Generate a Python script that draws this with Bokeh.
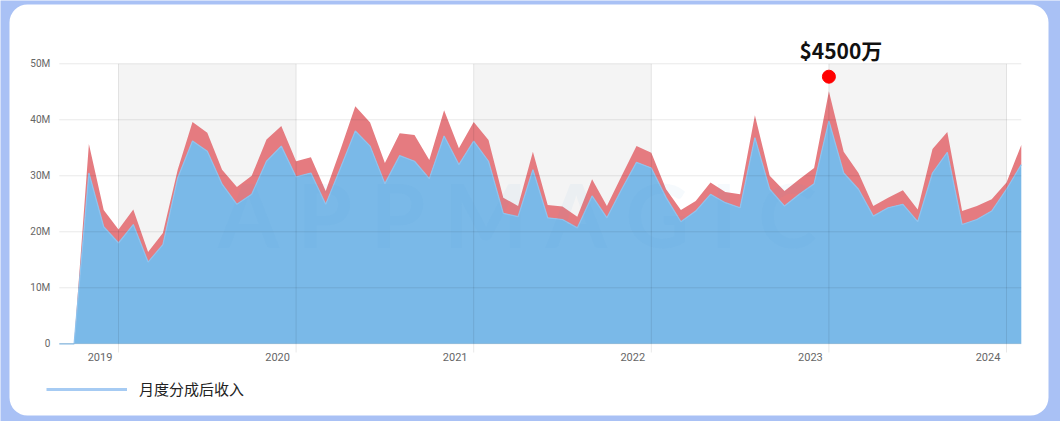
from bokeh.plotting import figure
from bokeh.models import (FixedTicker, LinearAxis, Range1d, Legend, LegendItem, Label)
from bokeh.core.properties import value
from bokeh.embed import file_html
from bokeh.resources import INLINE

# ---------------- data ----------------
start_year, start_month, n_months = 2018, 9, 66
months = [f"{start_year + (start_month - 1 + i) // 12}-{(start_month - 1 + i) % 12 + 1:02d}"
          for i in range(n_months)]  # 2018-09 ... 2024-02

# monthly net revenue after store share (blue), in millions USD
net_m = [0, 0, 30.5, 20.9, 18.0, 21.3, 14.6, 17.7, 29.6, 36.2, 34.4, 28.5,
         24.9, 26.7, 32.6, 35.3, 29.8, 30.5, 24.9, 31.4, 38.0, 35.3, 28.6, 33.6,
         32.6, 29.5, 37.1, 32.0, 36.2, 32.6, 23.3, 22.7, 31.1, 22.5, 22.2, 20.7,
         26.4, 22.5, 27.6, 32.4, 31.4, 26.1, 21.8, 23.7, 26.7, 25.2, 24.3, 36.8,
         27.6, 24.6, 26.7, 28.6, 39.8, 30.5, 27.6, 22.8, 24.3, 24.9, 21.8, 30.5,
         34.2, 21.3, 22.2, 23.7, 27.6, 32.0]
# monthly gross revenue (top of red band), in millions USD
gross_m = [0, 0, 35.7, 23.9, 20.4, 24.0, 16.4, 19.8, 31.1, 39.6, 37.7, 31.1,
           28.0, 30.0, 36.5, 38.9, 32.6, 33.3, 27.3, 34.7, 42.4, 39.5, 32.3, 37.6,
           37.3, 32.8, 41.7, 34.9, 39.6, 36.4, 26.1, 24.6, 34.3, 24.8, 24.5, 22.7,
           29.4, 24.6, 30.0, 35.3, 34.1, 27.6, 23.9, 25.5, 28.8, 27.1, 26.7, 40.8,
           30.0, 27.3, 29.4, 31.4, 45.1, 34.3, 30.5, 24.6, 26.1, 27.4, 24.0, 34.8,
           37.8, 23.7, 24.6, 25.8, 28.8, 35.5]

years = [2019, 2020, 2021, 2022, 2023, 2024]
shaded_years = [2019, 2021, 2023]
y_ticks = [0, 10_000_000, 20_000_000, 30_000_000, 40_000_000, 50_000_000]
y_labels = ["0", "10M", "20M", "30M", "40M", "50M"]

legend_label = "月度分成后收入"
peak_month = "2023-01"
peak_text = "$4500万"
peak_marker_m = 47.7
peak_text_m = 52.5
watermark = "A P P M A G I C"

BLUE = "#7ab9e8"
RED = "#e57b80"
TEXT_GREY = "#666666"
PAGE_BLUE = "#a9c1f5"

# ---------------- geometry (pixels of the page) ----------------
W, H = 1060, 421
X0_PX, PX_PER_MONTH = 118.0, 14.8     # Jan 2019 at x=118 px
Y0_PX, PX_PER_MILLION = 343.3, 5.6    # value 0 at y=343.3 px


def x_of(px):
    return (px - X0_PX) / PX_PER_MONTH


def y_of(py):
    return (Y0_PX - py) / PX_PER_MILLION * 1e6


def month_pos(s):
    y, m = map(int, s.split("-"))
    return (y - years[0]) * 12 + (m - 1)


x = [month_pos(s) for s in months]
net = [v * 1e6 for v in net_m]
gross = [v * 1e6 for v in gross_m]
year_pos = [(y - years[0]) * 12 for y in years]
label_pos = [yp - 1.25 for yp in year_pos]
band_left = [(y - years[0]) * 12 for y in shaded_years]
band_right = [b + 12 for b in band_left]
top_tick = y_ticks[-1]
x_lo, x_hi = x[0], x[-1]
axis_y = y_of(352)

p = figure(width=W, height=H, output_backend="svg", toolbar_location=None,
           x_range=Range1d(x_of(0), x_of(W)), y_range=Range1d(y_of(H), y_of(0)),
           x_axis_location=None, y_axis_location=None, min_border=0,
           border_fill_color=PAGE_BLUE, background_fill_color=PAGE_BLUE,
           outline_line_color=None)
p.xgrid.visible = False
p.ygrid.visible = False

# white rounded card
p.quad(left=[x_of(9)], right=[x_of(1048)], top=[y_of(4)], bottom=[y_of(415)],
       fill_color="white", line_color=None, border_radius=18)

# alternating year bands
p.quad(left=band_left, right=band_right, bottom=0, top=top_tick,
       fill_color="#f4f4f4", line_color=None)

# stacked areas
p.varea(x=x, y1=[0] * len(x), y2=net, fill_color=BLUE, fill_alpha=1.0)
p.varea(x=x, y1=net, y2=gross, fill_color=RED, fill_alpha=1.0)
p.line(x=x, y=net, line_color="#8ec3ee", line_width=1.2)

# watermark
p.add_layout(Label(x=(x_lo + x_hi) / 2 - 1.1, y=23.1e6, text=watermark,
                   text_align="center", text_baseline="middle",
                   text_font="Lato", text_font_style="bold",
                   text_font_size="88px", text_color="#4a9be0", text_alpha=0.05))

# gridlines on top of areas
p.segment(x0=[x_lo] * len(y_ticks), y0=y_ticks, x1=[x_hi] * len(y_ticks), y1=y_ticks,
          line_color="black", line_alpha=0.09, line_width=1)
p.segment(x0=year_pos, y0=[axis_y] * len(year_pos), x1=year_pos,
          y1=[top_tick] * len(year_pos),
          line_color="black", line_alpha=0.09, line_width=1)

# peak annotation
px = month_pos(peak_month)
p.scatter(x=[px], y=[peak_marker_m * 1e6], size=13, fill_color="#ff0000",
          line_color="#ff0000")
p.text(x=[px], y=[peak_text_m * 1e6], text=[peak_text], x_offset=12,
       text_align="center", text_baseline="middle",
       text_font=value("Noto Sans CJK SC"), text_font_style="bold",
       text_font_size="21px", text_color="#111111")

# y axis (drawn at the left edge of the data area)
ya = LinearAxis(fixed_location=x_lo,
                ticker=FixedTicker(ticks=y_ticks, minor_ticks=[]),
                major_label_overrides={t: l for t, l in zip(y_ticks, y_labels)},
                axis_line_color=None, major_tick_line_color=None,
                major_tick_out=0, major_tick_in=0,
                minor_tick_line_color=None, major_label_standoff=9,
                major_label_text_font="Roboto", major_label_text_font_size="10px",
                major_label_text_color=TEXT_GREY)
p.add_layout(ya, "left")

# x axis: year labels (just below the year tick marks)
xa = LinearAxis(fixed_location=axis_y,
                ticker=FixedTicker(ticks=label_pos, minor_ticks=[]),
                axis_line_color=None, major_tick_out=0, major_tick_in=0,
                major_tick_line_color=None, minor_tick_line_color=None,
                major_label_overrides={lp: str(y) for lp, y in zip(label_pos, years)},
                major_label_standoff=0, major_label_text_font="Roboto",
                major_label_text_font_size="11px",
                major_label_text_color=TEXT_GREY)
p.add_layout(xa, "below")

# legend (its renderer has no visible points; it only provides the legend swatch)
leg_r = p.line(x=[x_lo], y=[float("nan")], line_color="#a6cbf3", line_width=3)
legend = Legend(items=[LegendItem(label=legend_label, renderers=[leg_r])],
                location=(46, 22), orientation="horizontal",
                glyph_width=81, glyph_height=20, label_standoff=12,
                label_text_font="Noto Sans CJK SC", label_text_font_size="15px",
                label_text_color="#222222", padding=0, margin=0,
                border_line_color=None, background_fill_alpha=0)
p.add_layout(legend)

open("out.html", "w").write(file_html(p, INLINE))
